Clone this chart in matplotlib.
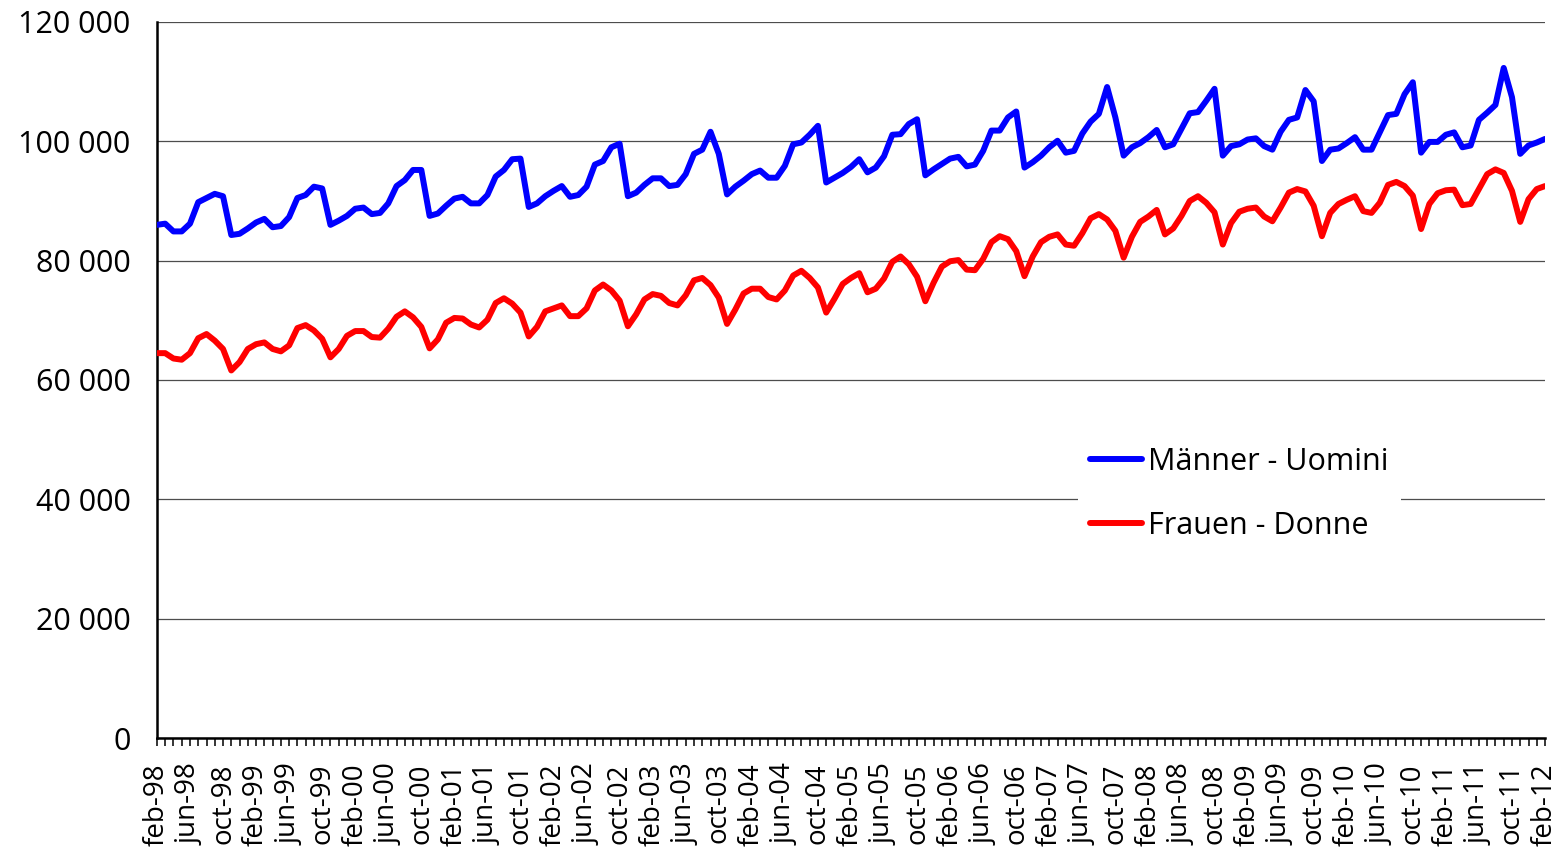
import matplotlib
matplotlib.use("Agg")
import matplotlib.pyplot as plt
from matplotlib.ticker import FuncFormatter, MultipleLocator
import numpy as np
import pandas as pd

plt.rcParams['font.family'] = ['Open Sans', 'DejaVu Sans']

# Monatswerte feb-98 .. feb-12
months = pd.date_range('1998-02-01', '2012-02-01', freq='MS')

men = [
    86000, 86200, 84900, 84900, 86200, 89800, 90500, 91200, 90800, 84300, 84500, 85400,
    86400, 87000, 85600, 85800, 87300, 90500, 91000, 92400, 92100, 86000, 86700, 87500,
    88700, 88900, 87800, 88000, 89600, 92500, 93500, 95200, 95200, 87500, 87900, 89200,
    90400, 90700, 89600, 89600, 91000, 94100, 95200, 97000, 97100, 89000, 89600, 90800,
    91700, 92500, 90700, 91000, 92400, 96100, 96700, 99000, 99600, 90800, 91400, 92700,
    93800, 93800, 92500, 92700, 94500, 97900, 98600, 101600, 97900, 91100, 92400, 93400,
    94500, 95100, 93900, 93900, 95900, 99500, 99800, 101100, 102600, 93100, 93900, 94700,
    95700, 97000, 94800, 95600, 97500, 101100, 101200, 102900, 103700, 94300, 95300, 96200,
    97100, 97400, 95800, 96100, 98400, 101800, 101800, 104000, 105000, 95600, 96500, 97600,
    99000, 100100, 98100, 98400, 101300, 103300, 104600, 109100, 104000, 97600, 99000, 99700,
    100700, 101900, 99000, 99500, 102100, 104700, 104900, 106800, 108800, 97600, 99200, 99500,
    100300, 100500, 99200, 98600, 101600, 103600, 104000, 108600, 106700, 96700, 98600, 98800,
    99700, 100700, 98600, 98600, 101500, 104400, 104600, 107900, 109900, 98100, 99900, 99900,
    101100, 101500, 99000, 99300, 103600, 104800, 106100, 112300, 107400, 97900, 99300, 99800,
    100400,
]

women = [
    64500, 64500, 63600, 63400, 64500, 67000, 67700, 66600, 65200, 61600, 63000, 65200,
    66000, 66300, 65200, 64800, 65800, 68700, 69200, 68300, 66900, 63800, 65200, 67400,
    68200, 68200, 67200, 67100, 68600, 70600, 71500, 70500, 68900, 65300, 66800, 69600,
    70400, 70300, 69300, 68800, 70100, 72900, 73700, 72800, 71300, 67300, 68900, 71500,
    72000, 72500, 70700, 70700, 72000, 75000, 76000, 75000, 73300, 69000, 71000, 73500,
    74400, 74100, 72900, 72500, 74200, 76700, 77100, 75900, 73800, 69400, 71800, 74500,
    75300, 75300, 73900, 73500, 75000, 77500, 78300, 77100, 75500, 71300, 73600, 76100,
    77100, 77900, 74700, 75300, 77000, 79800, 80700, 79400, 77300, 73200, 76300, 79000,
    79900, 80100, 78500, 78400, 80300, 83100, 84100, 83600, 81600, 77400, 80700, 83100,
    84000, 84400, 82700, 82500, 84600, 87100, 87800, 86900, 85000, 80500, 84000, 86500,
    87400, 88500, 84400, 85400, 87500, 90000, 90800, 89700, 88100, 82700, 86300, 88200,
    88700, 88900, 87400, 86600, 88900, 91400, 92000, 91600, 89200, 84100, 88000, 89500,
    90200, 90800, 88300, 88000, 89700, 92700, 93200, 92500, 90900, 85300, 89500, 91300,
    91800, 91900, 89300, 89500, 92000, 94500, 95300, 94700, 91700, 86500, 90300, 92000,
    92500,
]

series_names = ['Männer - Uomini', 'Frauen - Donne']
series_colors = ['#0000FF', '#FF0000']

x = np.arange(len(months))
tick_pos = x[::4]
tick_labels = [d.strftime('%b-%y').lower() for d in months[::4]]

fig = plt.figure(figsize=(15.63, 8.52), dpi=100)
ax = fig.add_axes([0.1004, 0.1338, 0.8881, 0.8404])

for vals, name, col in zip([men, women], series_names, series_colors):
    ax.plot(x, vals, color=col, lw=4.3, label=name,
            solid_joinstyle='round', solid_capstyle='round', zorder=3)

ax.set_xlim(x[0], x[-1])
ax.set_ylim(0, 120000)
ax.yaxis.set_major_locator(MultipleLocator(20000))
ax.yaxis.set_major_formatter(FuncFormatter(lambda v, p: f"{v:,.0f}".replace(",", " ")))
ax.grid(axis='y', color='#4d4d4d', lw=0.9)
ax.set_axisbelow(True)

ax.set_xticks(tick_pos)
ax.set_xticklabels(tick_labels, rotation=90, fontsize=20)
ax.set_xticks(x, minor=True)
ax.tick_params(axis='x', which='both', direction='out', length=6, width=1.1,
               color='black', pad=12)
ax.tick_params(axis='y', length=0, pad=19, labelsize=22)

for s in ['top', 'right']:
    ax.spines[s].set_visible(False)
for s in ['left', 'bottom']:
    ax.spines[s].set_color('black')
    ax.spines[s].set_linewidth(1.8)

leg = ax.legend(loc='center', bbox_to_anchor=(0.780, 0.341), fontsize=22,
                frameon=True, fancybox=False, handlelength=1.7,
                handletextpad=0.2, labelspacing=1.1, borderpad=0.4)
leg.get_frame().set_edgecolor('none')
leg.get_frame().set_facecolor('white')
leg.get_frame().set_alpha(1)

fig.savefig('out.png', dpi=100)
